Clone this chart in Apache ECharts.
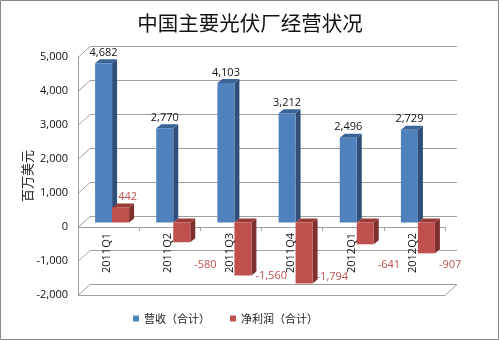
<!DOCTYPE html>
<html><head><meta charset="utf-8">
<script src="https://cdn.jsdelivr.net/npm/echarts@6/dist/echarts.min.js"></script>
<style>html,body{margin:0;padding:0;background:#fff}#c{width:500px;height:341px}</style>
</head><body><div id="c"></div>
<script>
const categories = ['2011Q1', '2011Q2', '2011Q3', '2011Q4', '2012Q1', '2012Q2'];
const revenue = [4682, 2770, 4103, 3212, 2496, 2729];
const profit = [442, -580, -1560, -1794, -641, -907];
const yTicks = [-2000, -1000, 0, 1000, 2000, 3000, 4000, 5000];
const seriesNames = ['营收（合计）', '净利润（合计）'];

const DX = 12, DY = -11;       // wall depth
const SY = -4.5;               // bar depth position
const BD = 5, BDY = -4;        // bar own depth
const BW = 17;
const fmt = v => v.toLocaleString('en-US');
const FONT = '"Open Sans", "DejaVu Sans", sans-serif';
const CJK = '"Noto Sans CJK SC", sans-serif';

function wallItem(params, api) {
  const cs = params.coordSys;
  const x0 = cs.x, x1 = cs.x + cs.width;
  const st = { stroke: '#a0a0a0', lineWidth: 1 };
  const ch = [];
  yTicks.forEach((t, k) => {
    const y = Math.round(api.coord([0, t])[1]) + 0.5;
    ch.push({ type: 'line', shape: { x1: x0 + DX, y1: y + DY, x2: x1 + DX, y2: y + DY }, style: st });
    ch.push({ type: 'line', shape: { x1: x0, y1: y, x2: x0 + DX, y2: y + DY }, style: st });
    if (k === 0) {
      ch.push({ type: 'line', shape: { x1: x0, y1: y, x2: x1, y2: y }, style: st });
      ch.push({ type: 'line', shape: { x1: x1, y1: y, x2: x1 + DX, y2: y + DY }, style: st });
    }
  });
  return { type: 'group', children: ch };
}

function makeBar(offX, colors, labelColor, isProfit) {
  return function (params, api) {
    const i = api.value(0), v = api.value(1);
    const p = api.coord([i, v]);
    const z = api.coord([i, 0]);
    const x = z[0] + offX;
    const yTop = Math.min(p[1], z[1]) + SY;
    const yBot = Math.max(p[1], z[1]) + SY;
    const ch = [
      { type: 'polygon', shape: { points: [[x + BW, yTop], [x + BW + BD, yTop + BDY], [x + BW + BD, yBot + BDY], [x + BW, yBot]] }, style: { fill: colors[1] } },
      { type: 'polygon', shape: { points: [[x, yTop], [x + BD, yTop + BDY], [x + BW + BD, yTop + BDY], [x + BW, yTop]] }, style: { fill: colors[2] } },
      { type: 'rect', shape: { x: x, y: yTop, width: BW, height: yBot - yTop }, style: { fill: colors[0] } }
    ];
    let tx, ty, va, al;
    if (v >= 0) {
      tx = x + BW / 2 + (isProfit ? 7 : 0);
      ty = yTop - 5; va = 'bottom'; al = 'center';
    } else {
      const lv = Math.min(Math.max(v, -1600), -1250);
      tx = x + BW + 4; al = 'left';
      ty = api.coord([i, lv])[1] + SY; va = 'middle';
    }
    ch.push({ type: 'text', style: { text: fmt(v), x: tx, y: ty, align: al, verticalAlign: va, fill: labelColor, font: '11px ' + FONT } });
    return { type: 'group', children: ch };
  };
}

// category labels drawn at the zero line (rotated, reading upward)
function catLabelItem(params, api) {
  const i = api.value(0);
  const z = api.coord([i, 0]);
  return {
    type: 'text', x: z[0] - 1.5, y: z[1] + 6, rotation: Math.PI / 2,
    style: { text: categories[i], align: 'right', verticalAlign: 'middle', fill: '#111', font: '11px ' + FONT }
  };
}

const chart = echarts.init(document.getElementById('c'), null, { renderer: 'canvas' });
chart.setOption({
  animation: false,
  backgroundColor: '#fff',
  color: ['#4F81BD', '#C0504D'],
  title: {
    text: '中国主要光伏厂经营状况', left: 'center', top: 8,
    textStyle: { fontFamily: CJK, fontSize: 20.5, fontWeight: 'normal', color: '#111' }
  },
  legend: {
    data: seriesNames, left: 128, top: 308, icon: 'rect', itemWidth: 6, itemHeight: 6, itemGap: 20,
    textStyle: { fontFamily: CJK, fontSize: 11, color: '#222' }
  },
  graphic: [{ type: 'rect', shape: { x: 0.5, y: 0.5, width: 498, height: 339 }, style: { fill: 'none', stroke: '#8a8a8a', lineWidth: 1 }, silent: true, z: 100 }],
  grid: { left: 78, right: 55, top: 57, bottom: 46, containLabel: false, outerBoundsMode: 'none' },
  xAxis: {
    type: 'category', data: categories,
    axisLine: { show: true, onZero: true, lineStyle: { color: '#a0a0a0' } },
    axisTick: { show: true, length: 4, lineStyle: { color: '#a0a0a0' } },
    axisLabel: { show: false }
  },
  yAxis: {
    type: 'value', min: -2000, max: 5000, interval: 1000,
    name: '百万美元', nameLocation: 'middle', nameGap: 44, nameRotate: 90, nameMoveOverlap: false,
    nameTextStyle: { fontFamily: CJK, fontSize: 13, color: '#222' },
    axisLine: { show: true, lineStyle: { color: '#a0a0a0' } },
    axisTick: { show: false }, splitLine: { show: false },
    axisLabel: { margin: 10, fontFamily: FONT, fontSize: 11, color: '#111', formatter: v => fmt(v) }
  },
  series: [
    { type: 'custom', name: 'walls', silent: true, z: 1, data: [[0, 0]], encode: { x: 0, y: 1 }, renderItem: wallItem },
    { type: 'custom', name: seriesNames[0], z: 3, itemStyle: { color: '#4F81BD' },
      data: revenue.map((v, i) => [i, v]), encode: { x: 0, y: 1 },
      renderItem: makeBar(3.5 - BW, ['#4F81BD', '#2F4F7A', '#3A6496'], '#111', false) },
    { type: 'custom', name: seriesNames[1], z: 4, itemStyle: { color: '#C0504D' },
      data: profit.map((v, i) => [i, v]), encode: { x: 0, y: 1 },
      renderItem: makeBar(3.5, ['#C0504D', '#7E302E', '#9A3B38'], '#C0504D', true) },
    { type: 'custom', name: 'catLabels', silent: true, z: 6, data: categories.map((c, i) => [i, 0]), encode: { x: 0, y: 1 }, renderItem: catLabelItem }
  ]
});
</script></body></html>
